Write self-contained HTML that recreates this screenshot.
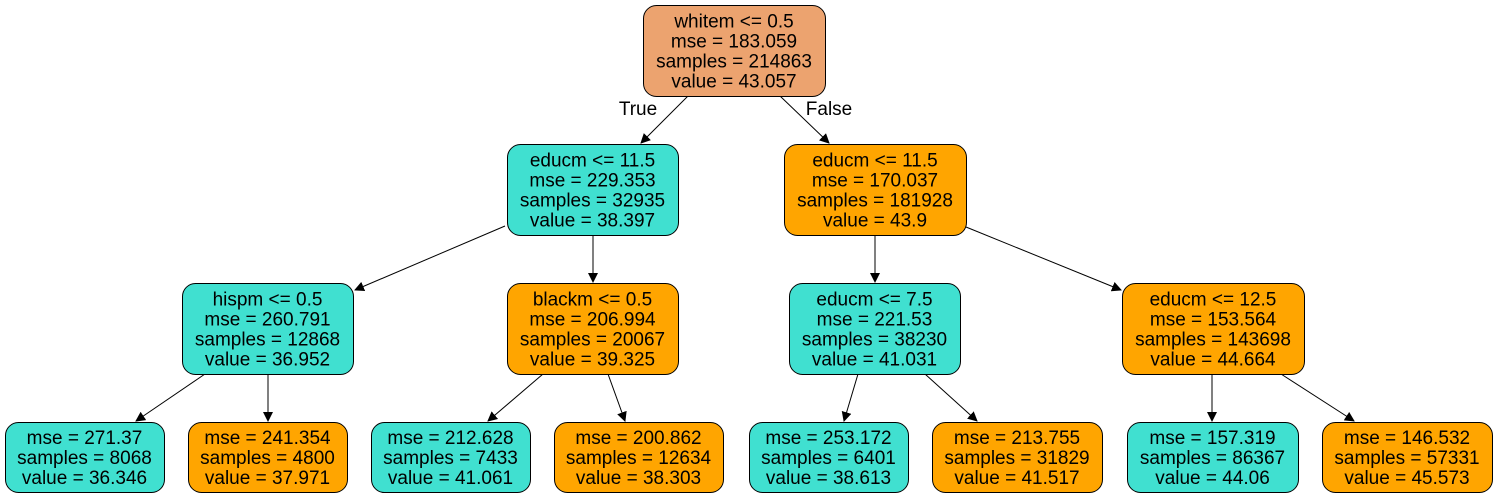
<!DOCTYPE html>
<html><head><meta charset="utf-8"><style>
html,body{margin:0;padding:0;background:#fff;}
svg{display:block;font-family:"Liberation Sans",Arial,sans-serif;}
</style></head><body>
<svg id="tree" width="1498" height="497" viewBox="0 0 1498 497" xmlns="http://www.w3.org/2000/svg">
<defs><marker id="ah" markerWidth="10" markerHeight="10" refX="9" refY="5" orient="auto" markerUnits="userSpaceOnUse"><path d="M0,0 L10,5 L0,10 z" fill="#000"/></marker></defs>
<rect width="1498" height="497" fill="#fff"/>
</svg>
<script>
// node data
const nodeNames = ["root","educm-left","educm-right","hispm","blackm","educm-7-5","educm-12-5","leaf-1","leaf-2","leaf-3","leaf-4","leaf-5","leaf-6","leaf-7","leaf-8"];
const nodeLabels = [
 ["whitem <= 0.5","mse = 183.059","samples = 214863","value = 43.057"],
 ["educm <= 11.5","mse = 229.353","samples = 32935","value = 38.397"],
 ["educm <= 11.5","mse = 170.037","samples = 181928","value = 43.9"],
 ["hispm <= 0.5","mse = 260.791","samples = 12868","value = 36.952"],
 ["blackm <= 0.5","mse = 206.994","samples = 20067","value = 39.325"],
 ["educm <= 7.5","mse = 221.53","samples = 38230","value = 41.031"],
 ["educm <= 12.5","mse = 153.564","samples = 143698","value = 44.664"],
 ["mse = 271.37","samples = 8068","value = 36.346"],
 ["mse = 241.354","samples = 4800","value = 37.971"],
 ["mse = 212.628","samples = 7433","value = 41.061"],
 ["mse = 200.862","samples = 12634","value = 38.303"],
 ["mse = 253.172","samples = 6401","value = 38.613"],
 ["mse = 213.755","samples = 31829","value = 41.517"],
 ["mse = 157.319","samples = 86367","value = 44.06"],
 ["mse = 146.532","samples = 57331","value = 45.573"]
];
const nodeKinds = ["mid","low","high","low","high","low","high","low","high","low","high","low","high","low","high"];
const edgeParents = [0,0,1,1,2,2,3,3,4,4,5,5,6,6];
const edgeChildren = [1,2,3,4,5,6,7,8,9,10,11,12,13,14];
</script>
<script>
const svg = document.getElementById('tree');
const NS = 'http://www.w3.org/2000/svg';
const colors = {mid:'#eca36f', low:'#40e0d0', high:'#ffa500'};
const boxes = [
 [643,825,5,96],
 [507,678,144,235],[784,966,144,235],
 [182,353,283,374],[507,678,283,374],[789,960,283,374],[1122,1304,283,374],
 [5,164,422,492],[188,347,422,492],[371,530,422,492],[554,723,422,492],
 [749,908,422,492],[932,1102,422,492],[1127,1298,422,492],[1322,1492,422,492]
];
const edgePts = [
 [688,96,641,143],[780,96,829,143],
 [505,226,355,290],[593,235,593,282],[875,235,875,282],[966,227,1121,290],
 [205,374,136,421],[268,374,268,421],[543,374,488,421],[608,374,625,421],
 [858,374,844,421],[925,374,977,421],[1212,374,1212,421],[1281,374,1354,421]
];
edgeParents.forEach((p,i)=>{
  const e = edgePts[i];
  const l = document.createElementNS(NS,'line');
  
  
  l.setAttribute('x1',e[0]);l.setAttribute('y1',e[1]);l.setAttribute('x2',e[2]);l.setAttribute('y2',e[3]);
  l.setAttribute('stroke','#000');l.setAttribute('stroke-width','1');l.setAttribute('marker-end','url(#ah)');
  svg.appendChild(l);
});
nodeLabels.forEach((lines,i)=>{
  const b = boxes[i];
  const g = document.createElementNS(NS,'g');
  
  
  const r = document.createElementNS(NS,'rect');
  r.setAttribute('x',b[0]+0.5);r.setAttribute('y',b[2]+0.5);
  r.setAttribute('width',b[1]-b[0]);r.setAttribute('height',b[3]-b[2]);
  r.setAttribute('rx',13);r.setAttribute('fill',colors[nodeKinds[i]]);
  r.setAttribute('stroke','#000');r.setAttribute('stroke-width','1');
  g.appendChild(r);
  const cx=(b[0]+b[1])/2, cy=(b[2]+b[3])/2;
  const start = cy - (lines.length-1)*10;
  lines.forEach((t,j)=>{
    const tx = document.createElementNS(NS,'text');
    tx.setAttribute('x',cx);tx.setAttribute('y',start + j*20 + 7);
    tx.setAttribute('text-anchor','middle');tx.setAttribute('font-size','19');
    tx.textContent = t;
    g.appendChild(tx);
  });
  svg.appendChild(g);
});
[["True",638,115,"true-label"],["False",829,115,"false-label"]].forEach(a=>{
  const t = document.createElementNS(NS,'text');
  
  
  t.setAttribute('x',a[1]);t.setAttribute('y',a[2]);t.setAttribute('text-anchor','middle');
  t.setAttribute('font-size','19');t.textContent=a[0];
  svg.appendChild(t);
});
</script>
</body></html>
